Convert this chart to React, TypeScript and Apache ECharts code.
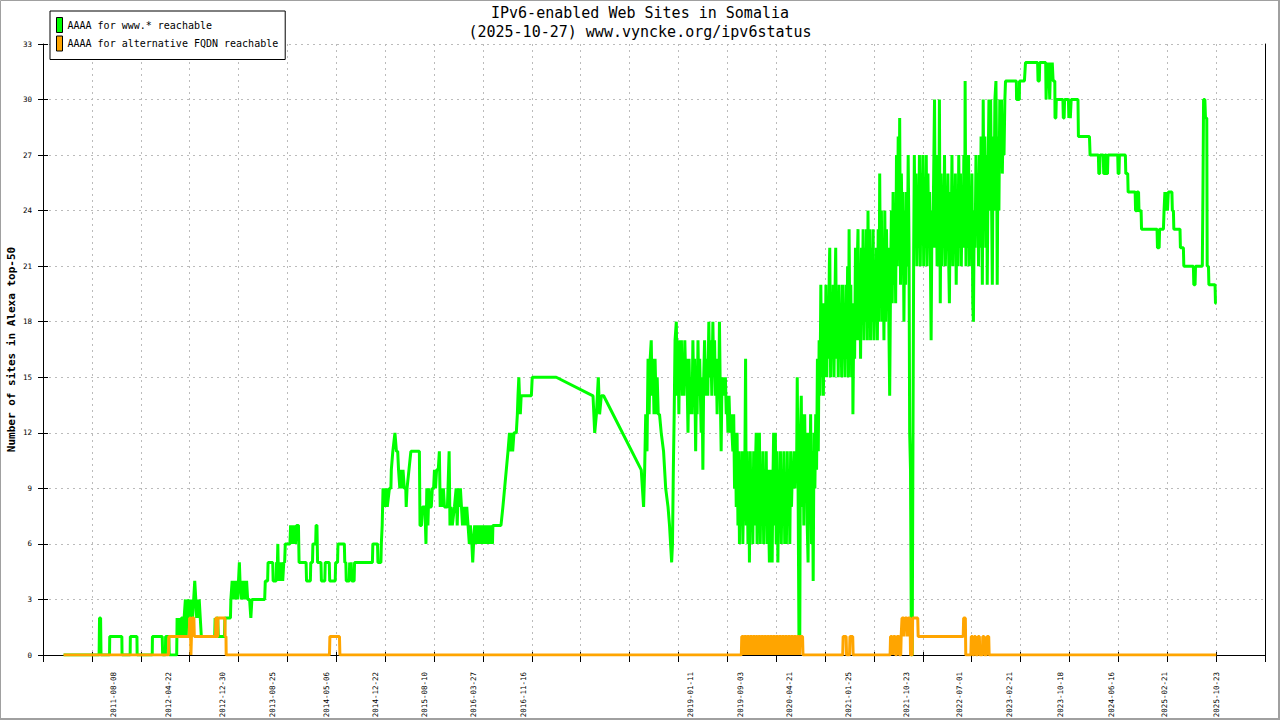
import React, { useEffect, useRef } from 'react';
import * as echarts from 'echarts';

// x axis: days counted from START_DATE (ticks every 230 days, as in the reference)
const START_DATE = '2010-09-09';
const X_MAX_DAYS = 5750;
const X_TICK_DAYS = 230;
const Y_MAX = 33;
const Y_TICK = 3;

const TITLE = 'IPv6-enabled Web Sites in Somalia\n(2025-10-27) www.vyncke.org/ipv6status';
const Y_NAME = 'Number of sites in Alexa top-50';
const SERIES_NAMES = ['AAAA for www.* reachable', 'AAAA for alternative FQDN reachable'];

const tickLabels = [
  '2011-08-08', '2012-04-22', '2012-12-30', '2013-08-25', '2014-05-06', '2014-12-22',
  '2015-08-10', '2016-03-27', '2016-11-16', '2019-01-11', '2019-09-03', '2020-04-21',
  '2021-01-25', '2021-10-23', '2022-07-01', '2023-02-21', '2023-10-18', '2024-06-16',
  '2025-02-21', '2025-10-23',
];

// [day offset, sites] — "AAAA for www.* reachable"
const green2011to2016: [number, number][] = [
  [97, 0], [264, 0], [266, 2], [271, 2], [273, 0], [313, 0], [314, 1], [371, 1], [372, 0],
  [410, 0], [411, 1], [442, 1], [443, 0], [514, 0], [515, 1], [561, 1], [563, 0], [576, 0],
  [577, 1], [592, 1], [594, 0], [629, 0], [631, 2], [636, 1], [641, 2], [646, 1], [651, 2],
  [656, 2], [660, 1], [664, 2], [670, 3], [674, 1], [679, 3], [684, 2], [689, 3], [694, 1],
  [699, 3], [704, 2], [709, 3], [714, 4], [719, 3], [723, 2], [727, 3], [731, 2], [735, 3],
  [740, 2], [745, 1], [808, 1], [810, 2], [814, 1], [818, 2], [822, 2], [825, 1], [854, 1],
  [856, 2], [882, 2], [884, 3], [890, 4], [895, 3], [900, 4], [905, 3], [910, 4], [915, 3],
  [920, 4], [924, 5], [927, 4], [933, 3], [938, 4], [943, 3], [948, 4], [953, 3], [958, 4],
  [963, 3], [972, 3], [978, 2], [983, 3], [1043, 3], [1046, 4], [1057, 4], [1059, 5],
  [1081, 5], [1083, 4], [1097, 4], [1099, 5], [1103, 5], [1105, 6], [1108, 4], [1113, 5],
  [1118, 4], [1123, 5], [1128, 4], [1133, 5], [1137, 5], [1140, 6], [1162, 6], [1165, 7],
  [1169, 6], [1173, 7], [1178, 6], [1183, 7], [1188, 6], [1193, 7], [1202, 7], [1205, 5],
  [1238, 5], [1240, 4], [1258, 4], [1260, 5], [1268, 5], [1270, 6], [1283, 6], [1285, 7],
  [1289, 7], [1292, 5], [1308, 5], [1310, 4], [1326, 4], [1328, 5], [1347, 5], [1349, 4],
  [1375, 4], [1377, 5], [1386, 5], [1388, 6], [1418, 6], [1420, 5], [1425, 5], [1427, 4],
  [1441, 4], [1443, 5], [1446, 4], [1450, 5], [1453, 4], [1464, 4], [1466, 5], [1550, 5],
  [1552, 6], [1574, 6], [1576, 5], [1590, 5], [1592, 6], [1596, 7], [1600, 9], [1604, 8],
  [1608, 9], [1612, 8], [1616, 9], [1620, 8], [1630, 9], [1637, 9], [1639, 10], [1646, 11],
  [1656, 12], [1663, 11], [1669, 11], [1673, 10], [1679, 9], [1684, 10], [1689, 9],
  [1694, 10], [1700, 9], [1707, 9], [1709, 8], [1713, 9], [1722, 10], [1731, 11], [1771, 11],
  [1774, 7], [1781, 7], [1786, 8], [1797, 8], [1802, 6], [1806, 9], [1811, 7], [1816, 9],
  [1821, 8], [1827, 8], [1832, 9], [1838, 9], [1842, 10], [1847, 9], [1852, 10], [1860, 10],
  [1865, 11], [1869, 8], [1874, 9], [1879, 8], [1884, 9], [1889, 8], [1903, 8], [1911, 11],
  [1915, 7], [1920, 8], [1926, 7], [1936, 8], [1944, 9], [1949, 7], [1954, 9], [1959, 8],
  [1964, 9], [1969, 8], [1974, 7], [1980, 8], [1987, 7], [1994, 8], [2000, 7], [2006, 6],
  [2011, 7], [2018, 6], [2022, 5], [2026, 6], [2031, 7], [2036, 6], [2041, 7], [2046, 6],
  [2051, 7], [2056, 6], [2061, 7], [2066, 6], [2071, 7], [2076, 6], [2081, 7], [2086, 6],
  [2091, 7], [2096, 6], [2101, 7], [2106, 6], [2111, 7], [2115, 6], [2117, 7], [2155, 7],
  [2164, 8], [2172, 9], [2180, 10], [2188, 11], [2195, 12], [2200, 11], [2206, 12],
  [2210, 11], [2216, 12], [2227, 12], [2232, 13], [2235, 14], [2239, 15], [2242, 14],
  [2246, 13], [2250, 14], [2298, 14], [2302, 15],
];

const green2016to2019: [number, number][] = [
  [2415, 15], [2588, 14], [2596, 12], [2604, 13], [2613, 15], [2619, 13], [2627, 14],
  [2638, 14], [2815, 10], [2826, 8], [2831, 10], [2836, 13], [2842, 11], [2847, 16],
  [2852, 13], [2857, 16], [2862, 17], [2866, 14], [2870, 16], [2875, 13], [2880, 16],
  [2886, 13], [2890, 15], [2895, 13], [2901, 13], [2909, 12], [2920, 11], [2930, 9],
  [2941, 8], [2948, 7], [2958, 5], [2962, 6], [2966, 10], [2970, 13], [2974, 17],
];

const green2019to2020: [number, number][] = [
  [2980, 18], [2984, 14], [2988, 17], [2992, 13], [2996, 17], [3000, 15], [3004, 17],
  [3008, 14], [3012, 16], [3016, 14], [3020, 17], [3024, 15], [3028, 16], [3032, 14],
  [3035, 12], [3040, 16], [3045, 13], [3050, 15], [3054, 13], [3058, 17], [3062, 14],
  [3066, 16], [3071, 11], [3075, 15], [3078, 13], [3082, 17], [3086, 14], [3090, 16],
  [3097, 12], [3101, 15], [3105, 10], [3109, 15], [3113, 17], [3118, 14], [3123, 16],
  [3128, 14], [3133, 18], [3137, 15], [3142, 17], [3147, 14], [3152, 18], [3156, 15],
  [3160, 17], [3164, 14], [3168, 16], [3172, 13], [3176, 16], [3180, 14], [3183, 18],
  [3187, 14], [3191, 11], [3195, 15], [3199, 14], [3203, 15], [3207, 14], [3211, 15],
  [3215, 13], [3219, 14], [3223, 12], [3228, 14], [3233, 12], [3238, 13], [3242, 12],
  [3246, 11], [3250, 13], [3254, 9], [3258, 12], [3262, 8], [3266, 12], [3270, 7],
  [3274, 11], [3277, 6], [3281, 10], [3285, 7], [3289, 11], [3293, 6], [3297, 9], [3301, 8],
  [3306, 16], [3309, 7], [3313, 11], [3317, 6], [3321, 10], [3324, 5], [3328, 11], [3332, 7],
  [3336, 10], [3340, 6], [3344, 11], [3348, 7], [3352, 10], [3356, 12], [3360, 6],
  [3364, 12], [3368, 7], [3371, 12], [3375, 6], [3379, 10], [3383, 7], [3387, 11], [3391, 6],
  [3395, 10], [3399, 7], [3403, 11], [3407, 6], [3411, 10], [3415, 7], [3418, 5], [3422, 10],
  [3426, 7], [3431, 5], [3434, 9], [3438, 12], [3442, 7], [3446, 12], [3450, 6], [3454, 11],
  [3458, 5], [3462, 10], [3466, 7], [3470, 11], [3474, 6], [3478, 10], [3482, 7], [3486, 11],
  [3490, 6], [3494, 9], [3498, 6], [3502, 11], [3506, 7], [3510, 10], [3514, 6], [3518, 11],
  [3522, 8], [3526, 10], [3530, 9], [3534, 11], [3538, 9], [3542, 11], [3546, 10],
  [3549, 15], [3553, 9], [3557, 1], [3561, 1],
];

const green2020to2023: [number, number][] = [
  [3564, 12], [3568, 14], [3572, 8], [3576, 13], [3580, 7], [3584, 13], [3588, 9],
  [3592, 12], [3596, 7], [3600, 5], [3604, 12], [3608, 8], [3612, 13], [3616, 6], [3620, 11],
  [3624, 4], [3628, 12], [3632, 9], [3636, 13], [3640, 10], [3644, 16], [3648, 11],
  [3652, 17], [3656, 14], [3660, 20], [3664, 15], [3668, 19], [3672, 14], [3676, 19],
  [3680, 15], [3684, 20], [3688, 15], [3692, 19], [3696, 16], [3700, 21], [3702, 22],
  [3706, 15], [3710, 19], [3714, 16], [3718, 20], [3722, 15], [3726, 19], [3730, 22],
  [3734, 16], [3738, 19], [3742, 15], [3746, 20], [3750, 16], [3754, 19], [3758, 15],
  [3762, 20], [3766, 16], [3770, 19], [3774, 15], [3778, 20], [3782, 16], [3786, 21],
  [3790, 15], [3793, 23], [3797, 16], [3801, 20], [3805, 15], [3809, 19], [3811, 13],
  [3815, 18], [3819, 16], [3823, 22], [3827, 17], [3831, 21], [3835, 23], [3839, 17],
  [3843, 21], [3847, 16], [3851, 22], [3855, 18], [3859, 23], [3863, 17], [3867, 22],
  [3871, 18], [3875, 23], [3879, 17], [3882, 24], [3886, 18], [3890, 23], [3894, 17],
  [3898, 22], [3902, 18], [3906, 23], [3910, 17], [3914, 21], [3918, 18], [3922, 22],
  [3926, 17], [3930, 23], [3934, 18], [3937, 26], [3941, 19], [3945, 24], [3949, 18],
  [3953, 22], [3957, 17], [3961, 24], [3965, 18], [3969, 23], [3973, 19], [3977, 22],
  [3981, 17], [3984, 14], [3988, 20], [3992, 24], [3996, 19], [4000, 25], [4004, 20],
  [4008, 24], [4012, 19], [4016, 27], [4020, 21], [4024, 28], [4028, 22], [4031, 29],
  [4035, 20], [4039, 26], [4043, 22], [4047, 25], [4051, 18], [4055, 24], [4059, 20],
  [4063, 25], [4067, 21], [4071, 27], [4075, 22], [4078, 12], [4082, 10], [4086, 0],
  [4090, 0], [4093, 10], [4097, 22], [4100, 27], [4104, 22], [4108, 26], [4112, 21],
  [4116, 25], [4120, 22], [4124, 27], [4128, 21], [4132, 26], [4136, 23], [4140, 27],
  [4144, 21], [4148, 25], [4152, 22], [4156, 27], [4160, 21], [4164, 26], [4168, 22],
  [4172, 25], [4176, 21], [4179, 17], [4183, 24], [4187, 22], [4191, 26], [4195, 30],
  [4199, 22], [4203, 27], [4207, 21], [4211, 26], [4215, 22], [4218, 30], [4222, 19],
  [4226, 26], [4230, 21], [4234, 25], [4238, 22], [4242, 27], [4246, 21], [4250, 24],
  [4254, 22], [4258, 26], [4262, 21], [4265, 19], [4269, 25], [4273, 22], [4277, 27],
  [4281, 21], [4285, 25], [4289, 22], [4293, 26], [4297, 20], [4301, 25], [4305, 21],
  [4309, 27], [4313, 22], [4317, 26], [4321, 21], [4325, 25], [4329, 22], [4333, 27],
  [4337, 23], [4339, 31], [4343, 21], [4347, 26], [4351, 22], [4355, 27], [4359, 21],
  [4363, 25], [4367, 22], [4371, 26], [4375, 19], [4378, 18], [4382, 24], [4386, 22],
  [4390, 27], [4394, 23], [4398, 26], [4402, 21], [4406, 27], [4410, 22], [4414, 28],
  [4418, 23], [4420, 20], [4424, 30], [4428, 23], [4432, 28], [4436, 22], [4440, 27],
  [4443, 20], [4447, 26], [4451, 30], [4455, 24], [4459, 30], [4463, 25], [4467, 20],
  [4471, 28], [4475, 24], [4479, 30], [4484, 31], [4488, 25], [4490, 20], [4494, 28],
  [4498, 24], [4502, 30], [4506, 27], [4510, 30], [4514, 26], [4518, 29], [4522, 27],
  [4526, 30], [4529, 31],
];

const green2023to2025: [number, number][] = [
  [4580, 31], [4581, 30], [4594, 30], [4595, 31], [4618, 31], [4623, 32], [4680, 32],
  [4682, 31], [4688, 31], [4690, 32], [4718, 32], [4720, 30], [4724, 32], [4728, 31],
  [4732, 32], [4737, 30], [4741, 32], [4745, 31], [4749, 32], [4753, 31], [4761, 31],
  [4762, 29], [4766, 29], [4768, 30], [4799, 30], [4801, 29], [4805, 29], [4807, 30],
  [4825, 30], [4827, 29], [4830, 30], [4834, 29], [4838, 30], [4870, 30], [4872, 28],
  [4924, 28], [4927, 27], [4966, 27], [4968, 26], [4972, 26], [4974, 27], [4989, 27],
  [4991, 26], [4995, 26], [4997, 27], [5003, 27], [5005, 26], [5009, 26], [5011, 27],
  [5057, 27], [5059, 26], [5063, 26], [5065, 27], [5093, 27], [5095, 26], [5104, 26],
  [5106, 25], [5139, 25], [5141, 24], [5146, 24], [5148, 25], [5155, 25], [5157, 24],
  [5167, 24], [5169, 23], [5242, 23], [5244, 22], [5252, 22], [5254, 23], [5272, 23],
  [5275, 24], [5279, 25], [5283, 24], [5287, 25], [5291, 24], [5295, 25], [5312, 25],
  [5314, 24], [5319, 24], [5321, 23], [5350, 23], [5352, 22], [5366, 22], [5368, 21],
  [5413, 21], [5415, 20], [5421, 20], [5423, 21], [5455, 21], [5458, 25], [5461, 30],
  [5467, 30], [5470, 29], [5476, 29], [5478, 21], [5484, 21], [5486, 20], [5515, 20],
  [5517, 19], [5521, 19],
];

// [day offset, sites] — "AAAA for alternative FQDN reachable"
const orange2011to2018: [number, number][] = [
  [97, 0], [590, 0], [592, 1], [688, 1], [690, 2], [694, 2], [696, 0], [699, 0], [701, 2],
  [710, 2], [712, 1], [812, 1], [813, 2], [817, 2], [818, 1], [822, 1], [823, 2], [856, 2],
  [857, 1], [861, 1], [862, 0], [1348, 0], [1350, 1], [1395, 1], [1397, 0],
];

const orange2019to2020: [number, number][] = [
  [3286, 0], [3288, 1], [3296, 1], [3298, 0], [3300, 1], [3310, 1], [3312, 0], [3314, 1],
  [3322, 1], [3324, 0], [3326, 1], [3336, 1], [3338, 0], [3340, 1], [3350, 1], [3352, 0],
  [3354, 1], [3362, 1], [3364, 0], [3366, 1], [3376, 1], [3378, 0], [3380, 1], [3390, 1],
  [3392, 0], [3394, 1], [3404, 1], [3406, 0], [3408, 1], [3418, 1], [3420, 0], [3422, 1],
  [3432, 1], [3434, 0], [3436, 1], [3446, 1], [3448, 0], [3450, 1], [3460, 1], [3462, 0],
  [3464, 1], [3474, 1], [3476, 0], [3478, 1], [3488, 1], [3490, 0], [3492, 1], [3502, 1],
  [3504, 0], [3506, 1], [3516, 1], [3518, 0], [3520, 1], [3530, 1], [3532, 0], [3534, 1],
  [3544, 1], [3546, 0], [3548, 1], [3558, 1], [3560, 0], [3562, 1], [3574, 1], [3576, 0],
];

const orange2021to2025: [number, number][] = [
  [3763, 0], [3765, 1], [3779, 1], [3781, 0], [3795, 0], [3797, 1], [3810, 1], [3812, 0],
  [3986, 0], [3988, 1], [3995, 1], [3997, 0], [4000, 0], [4002, 1], [4010, 1], [4012, 0],
  [4016, 0], [4018, 1], [4028, 1], [4030, 0], [4036, 0], [4038, 1], [4042, 2], [4050, 2],
  [4052, 1], [4056, 2], [4066, 2], [4068, 1], [4072, 2], [4080, 2], [4082, 0], [4090, 0],
  [4092, 2], [4116, 2], [4118, 1], [4330, 1], [4332, 2], [4340, 2], [4342, 0], [4366, 0],
  [4368, 1], [4374, 1], [4376, 0], [4380, 0], [4382, 1], [4388, 1], [4390, 0], [4398, 0],
  [4400, 1], [4406, 1], [4408, 0], [4420, 0], [4422, 1], [4428, 1], [4430, 0], [4440, 0],
  [4442, 1], [4450, 1], [4452, 0], [5521, 0],
];

const DAY_MS = 86400000;
const START_MS = Date.parse(START_DATE + 'T00:00:00Z');
const dayOf = (s: string) => Math.round((Date.parse(s + 'T00:00:00Z') - START_MS) / DAY_MS);
const dateOf = (d: number) => new Date(START_MS + Math.round(d) * DAY_MS).toISOString().slice(0, 10);

const MONO = "'DejaVu Sans Mono', 'Liberation Mono', monospace";
const GREEN = '#00ff00';
const ORANGE = '#ffa500';
const GRID_LINE = { color: '#bbbbbb', width: 1, type: [2, 4] as number[] };

function buildOption(): echarts.EChartsOption {
  const greenData = [...green2011to2016, ...green2016to2019, ...green2019to2020, ...green2020to2023, ...green2023to2025];
  const orangeData = [...orange2011to2018, ...orange2019to2020, ...orange2021to2025];
  const xBase = { type: 'value' as const, min: 0, max: X_MAX_DAYS, interval: X_TICK_DAYS, position: 'bottom' as const };
  const yBase = { type: 'value' as const, min: 0, max: Y_MAX, interval: Y_TICK };
  return {
    animation: false,
    backgroundColor: '#ffffff',
    title: {
      text: TITLE,
      left: 'center',
      top: 4,
      padding: 0,
      textStyle: { fontFamily: MONO, fontSize: 15, fontWeight: 'normal', color: '#000', lineHeight: 18.5 },
    },
    legend: {
      orient: 'vertical',
      left: 50,
      top: 11,
      padding: [6, 7, 8, 6],
      itemGap: 2.5,
      itemWidth: 6,
      itemHeight: 15,
      icon: 'rect',
      backgroundColor: '#fff',
      borderColor: '#000',
      borderWidth: 1,
      borderRadius: 0,
      itemStyle: { borderColor: '#000', borderWidth: 1 },
      textStyle: { fontFamily: MONO, fontSize: 10, color: '#000', padding: [0, 0, 0, 0] },
      data: SERIES_NAMES,
    },
    grid: { left: 43, right: 15, top: 44, bottom: 65, containLabel: false, outerBoundsMode: 'none' } as any,
    xAxis: [
      {
        ...xBase,
        axisLine: { show: true, onZero: false, lineStyle: { color: '#000', width: 1 } },
        axisTick: { show: true, inside: false, length: 7, lineStyle: { color: '#000' } },
        splitLine: { show: true, lineStyle: GRID_LINE },
        axisLabel: {
          show: true,
          customValues: tickLabels.map(dayOf),
          formatter: (v: number) => dateOf(v),
          rotate: 90,
          margin: 17,
          fontFamily: MONO,
          fontSize: 7.5,
          color: '#000',
        },
      } as any,
      {
        ...xBase,
        axisLine: { show: false },
        axisTick: { show: true, inside: true, length: 3, lineStyle: { color: '#000' } },
        splitLine: { show: false },
        axisLabel: { show: false },
      },
    ],
    yAxis: [
      {
        ...yBase,
        position: 'left',
        name: Y_NAME,
        nameLocation: 'middle',
        nameGap: 26,
        nameMoveOverlap: false,
        nameRotate: 90,
        nameTextStyle: { fontFamily: MONO, fontSize: 11, fontWeight: 'bold', color: '#000' },
        axisLine: { show: true, onZero: false, lineStyle: { color: '#000', width: 1 } },
        axisTick: { show: true, inside: false, length: 5, lineStyle: { color: '#000' } },
        splitLine: { show: true, lineStyle: GRID_LINE },
        axisLabel: { fontFamily: MONO, fontSize: 7.5, color: '#000', margin: 11 },
      } as any,
      {
        ...yBase,
        position: 'left',
        axisLine: { show: false },
        axisTick: { show: true, inside: true, length: 5, lineStyle: { color: '#000' } },
        splitLine: { show: false },
        axisLabel: { show: false },
      },
      {
        ...yBase,
        position: 'right',
        axisLine: { show: true, onZero: false, lineStyle: { color: '#000', width: 1 } },
        axisTick: { show: false },
        splitLine: { show: false },
        axisLabel: { show: false },
      },
    ],
    graphic: [
      { type: 'rect', silent: true, shape: { x: 0.5, y: 0.5, width: 1278, height: 718 }, style: { fill: 'none', stroke: '#a0a0a0', lineWidth: 1 } },
      { type: 'line', silent: true, shape: { x1: 1279, y1: 0, x2: 1279, y2: 720 }, style: { stroke: '#a0a0a0', lineWidth: 2 } },
      { type: 'line', silent: true, shape: { x1: 0, y1: 719, x2: 1280, y2: 719 }, style: { stroke: '#a0a0a0', lineWidth: 2 } },
    ],
    series: [
      {
        name: SERIES_NAMES[0],
        type: 'line',
        data: greenData,
        xAxisIndex: 0,
        yAxisIndex: 0,
        symbol: 'none',
        showSymbol: false,
        silent: true,
        z: 2,
        color: GREEN,
        itemStyle: { color: GREEN },
        lineStyle: { color: GREEN, width: 3 },
      },
      {
        name: SERIES_NAMES[1],
        type: 'line',
        data: orangeData,
        xAxisIndex: 0,
        yAxisIndex: 0,
        symbol: 'none',
        showSymbol: false,
        silent: true,
        z: 3,
        color: ORANGE,
        itemStyle: { color: ORANGE },
        lineStyle: { color: ORANGE, width: 3 },
      },
    ],
  };
}

export default function App() {
  const ref = useRef<HTMLDivElement>(null);
  useEffect(() => {
    if (!ref.current) return;
    const chart = echarts.init(ref.current, undefined, { renderer: 'svg', width: 1280, height: 720 });
    chart.setOption(buildOption());
    return () => chart.dispose();
  }, []);
  return (
    <div
      ref={ref}
      style={{ position: 'fixed', left: 0, top: 0, width: 1280, height: 720, background: '#fff' }}
    />
  );
}
